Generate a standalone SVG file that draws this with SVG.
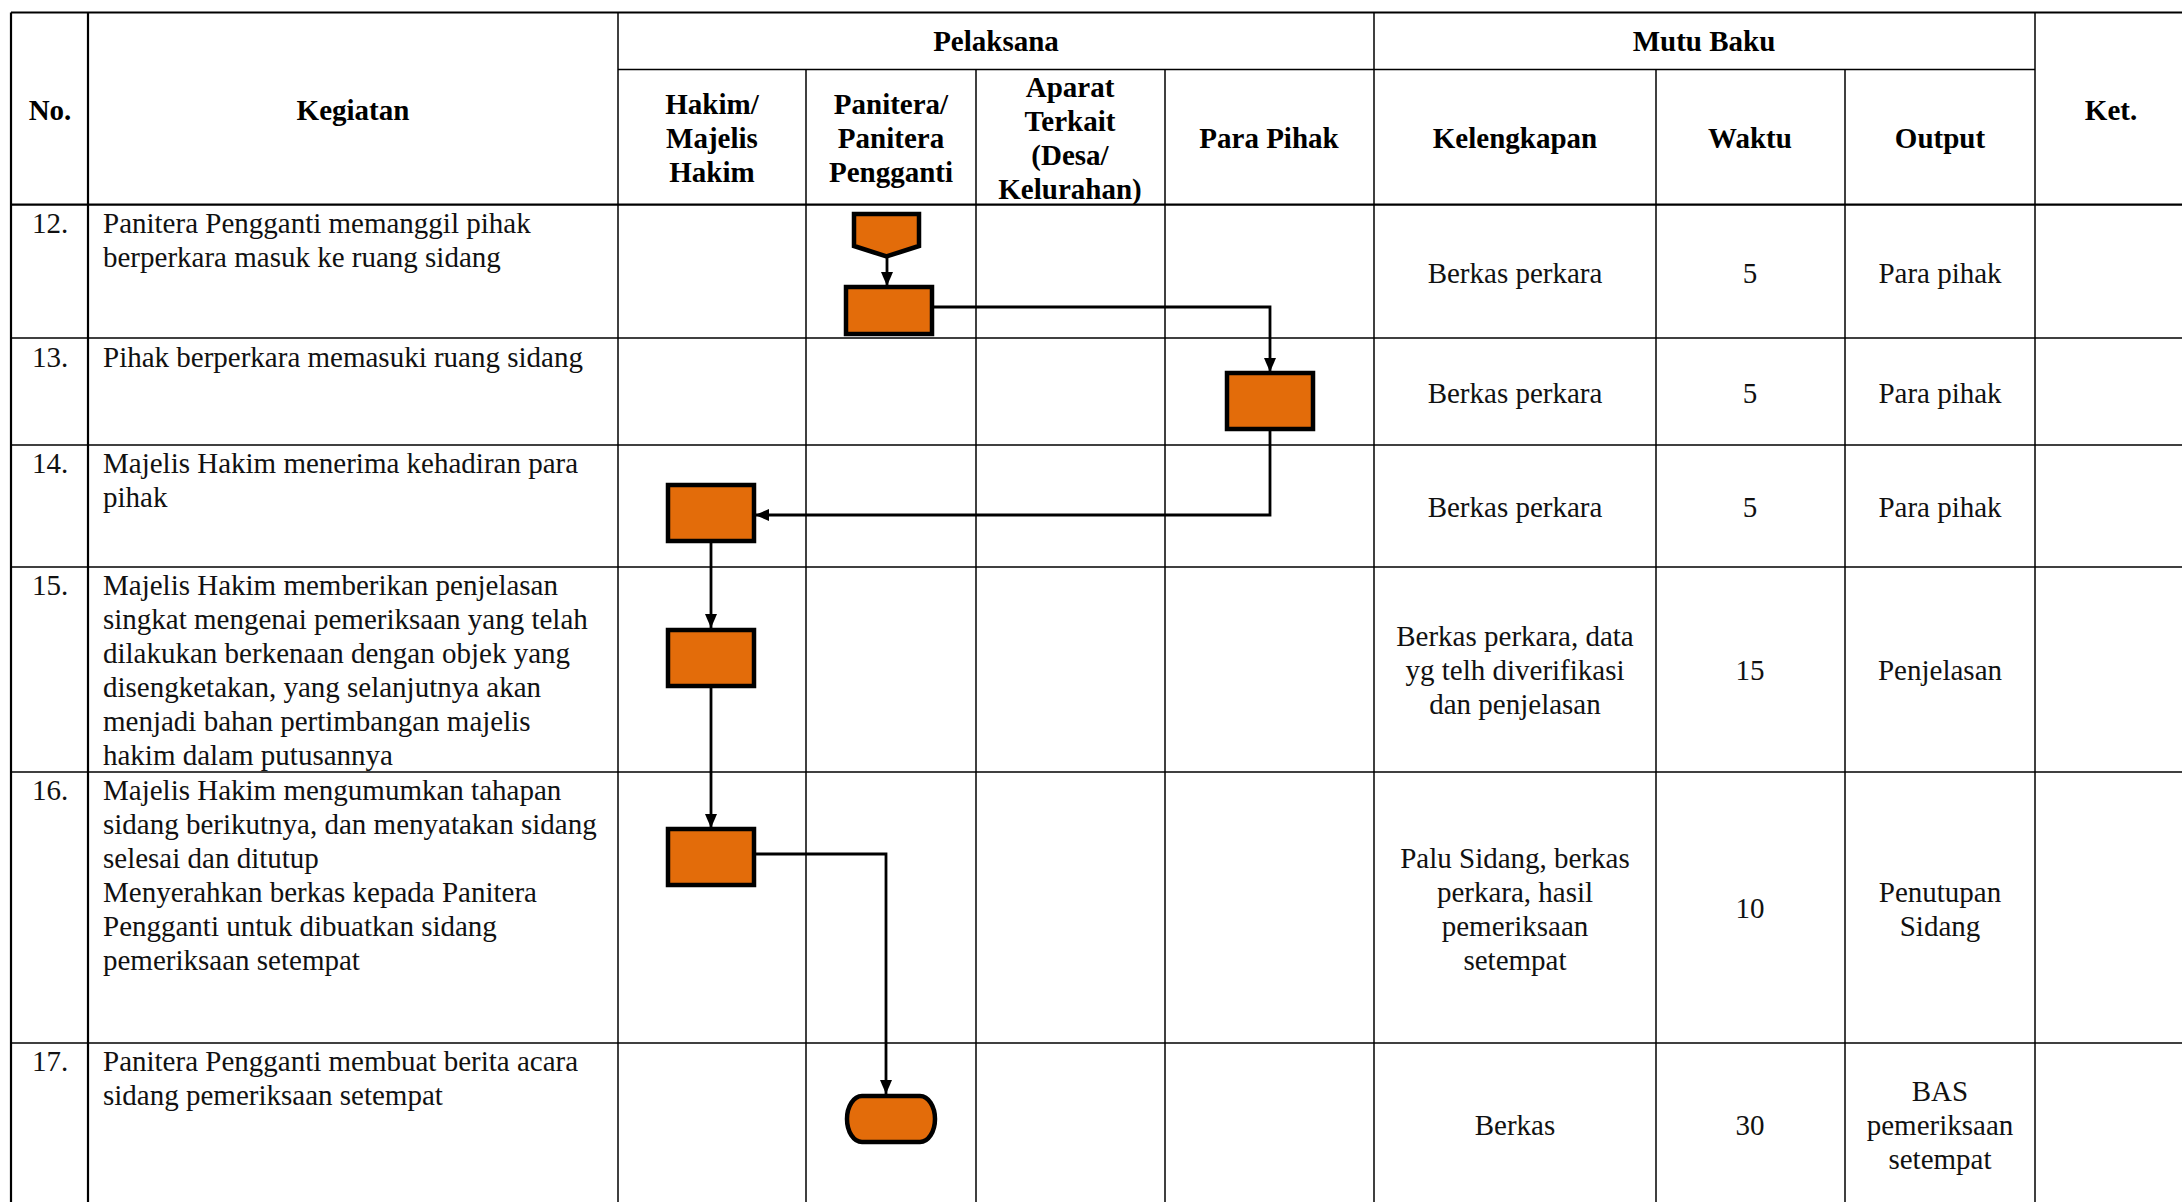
<svg xmlns="http://www.w3.org/2000/svg" width="2182" height="1202" viewBox="0 0 2182 1202">
<style>
.g{stroke:#000;stroke-width:1.5;fill:none}
.gb{stroke:#000;stroke-width:2.2;fill:none}
.t{font-family:"Liberation Serif","Times New Roman",serif;font-size:29px;fill:#111}
.c{text-anchor:middle}
.h{font-family:"Liberation Serif","Times New Roman",serif;font-size:29px;font-weight:bold;fill:#000;text-anchor:middle}
.s{fill:#E36C0A;stroke:#000;stroke-width:4.5}
.k{fill:none;stroke:#000;stroke-width:2.8}
</style>
<defs>
<marker id="ah" viewBox="0 0 14 12" refX="14" refY="6" markerWidth="14" markerHeight="12" markerUnits="userSpaceOnUse" orient="auto">
<path d="M0,0 L14,6 L0,12 Z" fill="#000"/>
</marker>
</defs>
<rect width="2182" height="1202" fill="#fff"/>
<g id="grid">
<line class="gb" x1="11" y1="12.5" x2="2182" y2="12.5"/>
<line class="g" x1="618" y1="69.6" x2="2035" y2="69.6"/>
<line class="gb" x1="11" y1="204.6" x2="2182" y2="204.6"/>
<line class="g" x1="11" y1="338" x2="2182" y2="338"/>
<line class="g" x1="11" y1="445" x2="2182" y2="445"/>
<line class="g" x1="11" y1="567" x2="2182" y2="567"/>
<line class="g" x1="11" y1="772" x2="2182" y2="772"/>
<line class="g" x1="11" y1="1043" x2="2182" y2="1043"/>
<line class="gb" x1="11" y1="12.5" x2="11" y2="1202"/>
<line class="gb" x1="88" y1="12.5" x2="88" y2="1202"/>
<line class="g" x1="618" y1="12.5" x2="618" y2="1202"/>
<line class="g" x1="806" y1="69.6" x2="806" y2="1202"/>
<line class="g" x1="976" y1="69.6" x2="976" y2="1202"/>
<line class="g" x1="1165" y1="69.6" x2="1165" y2="1202"/>
<line class="g" x1="1374" y1="12.5" x2="1374" y2="1202"/>
<line class="g" x1="1656" y1="69.6" x2="1656" y2="1202"/>
<line class="g" x1="1845" y1="69.6" x2="1845" y2="1202"/>
<line class="g" x1="2035" y1="12.5" x2="2035" y2="1202"/>
</g>
<g id="header">
<text class="h" x="996" y="51">Pelaksana</text>
<text class="h" x="1704" y="51">Mutu Baku</text>
<text class="h" x="50" y="120">No.</text>
<text class="h" x="353" y="120">Kegiatan</text>
<text class="h" x="2111" y="120">Ket.</text>
<text class="h" x="712" y="114">Hakim/</text>
<text class="h" x="712" y="148">Majelis</text>
<text class="h" x="712" y="182">Hakim</text>
<text class="h" x="891" y="114">Panitera/</text>
<text class="h" x="891" y="148">Panitera</text>
<text class="h" x="891" y="182">Pengganti</text>
<text class="h" x="1070" y="97">Aparat</text>
<text class="h" x="1070" y="131">Terkait</text>
<text class="h" x="1070" y="165">(Desa/</text>
<text class="h" x="1070" y="199">Kelurahan)</text>
<text class="h" x="1269" y="148">Para Pihak</text>
<text class="h" x="1515" y="148">Kelengkapan</text>
<text class="h" x="1750" y="148">Waktu</text>
<text class="h" x="1940" y="148">Output</text>
</g>
<g id="rows">
<text class="t c" x="50" y="233">12.</text>
<text class="t" x="103" y="233">Panitera Pengganti memanggil pihak</text>
<text class="t" x="103" y="267">berperkara masuk ke ruang sidang</text>
<text class="t c" x="1515" y="283">Berkas perkara</text>
<text class="t c" x="1750" y="283">5</text>
<text class="t c" x="1940" y="283">Para pihak</text>

<text class="t c" x="50" y="367">13.</text>
<text class="t" x="103" y="367">Pihak berperkara memasuki ruang sidang</text>
<text class="t c" x="1515" y="403">Berkas perkara</text>
<text class="t c" x="1750" y="403">5</text>
<text class="t c" x="1940" y="403">Para pihak</text>

<text class="t c" x="50" y="473">14.</text>
<text class="t" x="103" y="473">Majelis Hakim menerima kehadiran para</text>
<text class="t" x="103" y="507">pihak</text>
<text class="t c" x="1515" y="517">Berkas perkara</text>
<text class="t c" x="1750" y="517">5</text>
<text class="t c" x="1940" y="517">Para pihak</text>

<text class="t c" x="50" y="595">15.</text>
<text class="t" x="103" y="595">Majelis Hakim memberikan penjelasan</text>
<text class="t" x="103" y="629">singkat mengenai pemeriksaan yang telah</text>
<text class="t" x="103" y="663">dilakukan berkenaan dengan objek yang</text>
<text class="t" x="103" y="697">disengketakan, yang selanjutnya akan</text>
<text class="t" x="103" y="731">menjadi bahan pertimbangan majelis</text>
<text class="t" x="103" y="765">hakim dalam putusannya</text>
<text class="t c" x="1515" y="646">Berkas perkara, data</text>
<text class="t c" x="1515" y="680">yg telh diverifikasi</text>
<text class="t c" x="1515" y="714">dan penjelasan</text>
<text class="t c" x="1750" y="680">15</text>
<text class="t c" x="1940" y="680">Penjelasan</text>

<text class="t c" x="50" y="800">16.</text>
<text class="t" x="103" y="800">Majelis Hakim mengumumkan tahapan</text>
<text class="t" x="103" y="834">sidang berikutnya, dan menyatakan sidang</text>
<text class="t" x="103" y="868">selesai dan ditutup</text>
<text class="t" x="103" y="902">Menyerahkan berkas kepada Panitera</text>
<text class="t" x="103" y="936">Pengganti untuk dibuatkan sidang</text>
<text class="t" x="103" y="970">pemeriksaan setempat</text>
<text class="t c" x="1515" y="868">Palu Sidang, berkas</text>
<text class="t c" x="1515" y="902">perkara, hasil</text>
<text class="t c" x="1515" y="936">pemeriksaan</text>
<text class="t c" x="1515" y="970">setempat</text>
<text class="t c" x="1750" y="918">10</text>
<text class="t c" x="1940" y="902">Penutupan</text>
<text class="t c" x="1940" y="936">Sidang</text>

<text class="t c" x="50" y="1071">17.</text>
<text class="t" x="103" y="1071">Panitera Pengganti membuat berita acara</text>
<text class="t" x="103" y="1105">sidang pemeriksaan setempat</text>
<text class="t c" x="1515" y="1135">Berkas</text>
<text class="t c" x="1750" y="1135">30</text>
<text class="t c" x="1940" y="1101">BAS</text>
<text class="t c" x="1940" y="1135">pemeriksaan</text>
<text class="t c" x="1940" y="1169">setempat</text>
</g>
<g id="connectors">
<path class="k" d="M887,258 V286" marker-end="url(#ah)"/>
<path class="k" d="M932,307 H1270 V372" marker-end="url(#ah)"/>
<path class="k" d="M1270,430 V515 H755" marker-end="url(#ah)"/>
<path class="k" d="M711,542 V628" marker-end="url(#ah)"/>
<path class="k" d="M711,687 V828" marker-end="url(#ah)"/>
<path class="k" d="M755,854 H886 V1094" marker-end="url(#ah)"/>
</g>
<g id="start"><path class="s" d="M854,214 H919 V246 L886.5,256.5 L854,246 Z"/></g>
<g id="step12"><rect class="s" x="846" y="287" width="86" height="47"/></g>
<g id="step13"><rect class="s" x="1227" y="373" width="86" height="56"/></g>
<g id="step14"><rect class="s" x="668" y="485" width="86" height="56"/></g>
<g id="step15"><rect class="s" x="668" y="630" width="86" height="56"/></g>
<g id="step16"><rect class="s" x="668" y="829" width="86" height="56"/></g>
<g id="end"><rect class="s" x="847" y="1096" width="88" height="46" rx="15" ry="23"/></g>
</svg>
